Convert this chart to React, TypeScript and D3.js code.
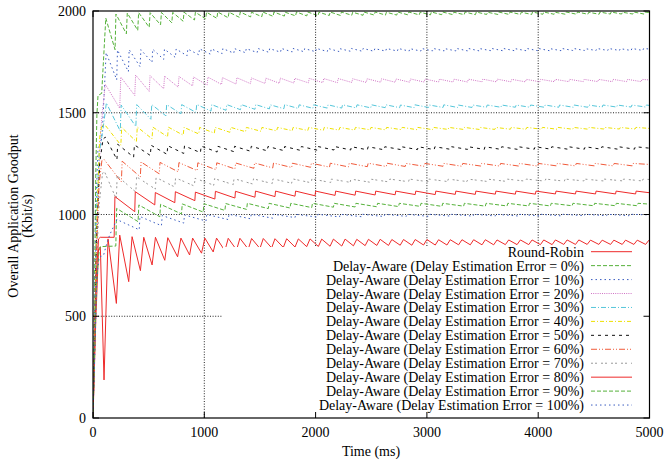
import * as d3 from "d3";

const W = 664;
const H = 461;
const M = { left: 93, right: 649.5, top: 11, bottom: 418 };

const xTicks = [0, 1000, 2000, 3000, 4000, 5000];
const yTicks = [0, 500, 1000, 1500, 2000];

const seriesNames = [
  "Round-Robin",
  "Delay-Aware (Delay Estimation Error = 0%)",
  "Delay-Aware (Delay Estimation Error = 10%)",
  "Delay-Aware (Delay Estimation Error = 20%)",
  "Delay-Aware (Delay Estimation Error = 30%)",
  "Delay-Aware (Delay Estimation Error = 40%)",
  "Delay-Aware (Delay Estimation Error = 50%)",
  "Delay-Aware (Delay Estimation Error = 60%)",
  "Delay-Aware (Delay Estimation Error = 70%)",
  "Delay-Aware (Delay Estimation Error = 80%)",
  "Delay-Aware (Delay Estimation Error = 90%)",
  "Delay-Aware (Delay Estimation Error = 100%)",
];

// [time (ms), goodput (Kbit/s)]
const roundRobin = [
  [0, 0], [25, 480], [50, 830], [66, 840], [99, 187], [135, 880], [210, 563], [240, 899], [321, 670], [351, 891],
  [426, 724], [456, 888], [531, 752], [561, 888], [645, 775], [672, 886], [760, 792], [790, 884], [868, 801], [895, 884],
  [975, 810], [1005, 884], [1080, 816], [1110, 884], [1185, 822], [1215, 883], [1290, 826], [1320, 883], [1395, 830], [1425, 882],
  [1500, 833], [1530, 882], [1605, 836], [1635, 881], [1710, 838], [1740, 881], [1815, 840], [1845, 880], [1920, 842], [1950, 880],
  [2025, 843], [2055, 879], [2130, 844], [2160, 879], [2235, 845], [2265, 879], [2340, 846], [2370, 878], [2445, 847], [2475, 878],
  [2550, 848], [2580, 878], [2655, 848], [2685, 877], [2760, 849], [2790, 877], [2865, 849], [2895, 877], [2970, 850], [3000, 877],
  [3075, 850], [3105, 876], [3180, 850], [3210, 876], [3285, 851], [3315, 876], [3390, 851], [3420, 876], [3495, 851], [3525, 876],
  [3600, 851], [3630, 875], [3705, 852], [3735, 875], [3810, 852], [3840, 875], [3915, 852], [3945, 875], [4020, 852], [4050, 875],
  [4125, 852], [4155, 875], [4230, 853], [4260, 875], [4335, 853], [4365, 875], [4440, 853], [4470, 874], [4545, 853], [4575, 874],
  [4650, 853], [4680, 874], [4755, 853], [4785, 874], [4860, 853], [4890, 874], [4965, 853], [4995, 874],
];

const err0 = [
  [0, 0], [25, 1200], [35, 1490], [45, 1585], [78, 1595], [115, 1965], [198, 1810], [206, 1985], [300, 1888], [308, 1990],
  [402, 1905], [410, 1992], [505, 1920], [513, 1992], [607, 1932], [615, 1993], [708, 1942], [716, 1993], [810, 1950], [818, 1994],
  [912, 1956], [920, 1994], [1012, 1961], [1020, 1994], [1113, 1964], [1121, 1995], [1214, 1967], [1222, 1994], [1315, 1969], [1323, 1995],
  [1416, 1971], [1424, 1994], [1517, 1972], [1525, 1995], [1618, 1974], [1626, 1995], [1719, 1975], [1727, 1994], [1820, 1976], [1828, 1995],
  [1921, 1976], [1929, 1995], [2022, 1977], [2030, 1994], [2123, 1978], [2131, 1995], [2224, 1978], [2232, 1995], [2325, 1979], [2333, 1994],
  [2426, 1979], [2434, 1995], [2527, 1980], [2535, 1995], [2628, 1980], [2636, 1994], [2729, 1980], [2737, 1995], [2830, 1981], [2838, 1995],
  [2931, 1981], [2939, 1994], [3032, 1981], [3040, 1995], [3133, 1982], [3141, 1995], [3234, 1982], [3242, 1994], [3335, 1982], [3343, 1995],
  [3436, 1982], [3444, 1995], [3537, 1983], [3545, 1994], [3638, 1983], [3646, 1995], [3739, 1983], [3747, 1995], [3840, 1983], [3848, 1994],
  [3941, 1983], [3949, 1995], [4042, 1984], [4050, 1995], [4143, 1984], [4151, 1994], [4244, 1984], [4252, 1995], [4345, 1984], [4353, 1995],
  [4446, 1984], [4454, 1994], [4547, 1984], [4555, 1995], [4648, 1985], [4656, 1995], [4749, 1985], [4757, 1994], [4850, 1985], [4858, 1995],
  [4951, 1985], [4959, 1995], [5000, 1992],
];

const err10 = [
  [0, 0], [30, 1100], [45, 1330], [70, 1340], [85, 1420], [118, 1795], [213, 1662], [220, 1808], [318, 1702], [325, 1810],
  [423, 1726], [430, 1810], [530, 1748], [537, 1812], [635, 1762], [642, 1812], [740, 1772], [747, 1813], [845, 1780], [852, 1813],
  [950, 1785], [957, 1814], [1055, 1788], [1062, 1814], [1160, 1791], [1167, 1815], [1265, 1793], [1272, 1815], [1370, 1795], [1377, 1815],
  [1475, 1796], [1482, 1816], [1580, 1797], [1587, 1815], [1685, 1798], [1692, 1816], [1790, 1799], [1797, 1816], [1895, 1800], [1902, 1815],
  [2000, 1800], [2007, 1816], [2105, 1801], [2112, 1816], [2210, 1801], [2217, 1815], [2315, 1802], [2322, 1816], [2420, 1802], [2427, 1816],
  [2525, 1802], [2532, 1815], [2630, 1803], [2637, 1816], [2735, 1803], [2742, 1816], [2840, 1803], [2847, 1815], [2945, 1803], [2952, 1816],
  [3050, 1804], [3057, 1816], [3155, 1804], [3162, 1815], [3260, 1804], [3267, 1816], [3365, 1804], [3372, 1816], [3470, 1804], [3477, 1815],
  [3575, 1805], [3582, 1816], [3680, 1805], [3687, 1816], [3785, 1805], [3792, 1815], [3890, 1805], [3897, 1816], [3995, 1805], [4002, 1816],
  [4100, 1805], [4107, 1815], [4205, 1805], [4212, 1816], [4310, 1806], [4317, 1816], [4415, 1806], [4422, 1815], [4520, 1806], [4527, 1816],
  [4625, 1806], [4632, 1816], [4730, 1806], [4737, 1815], [4835, 1806], [4842, 1816], [4940, 1806], [4947, 1816], [5000, 1813],
];

const err20 = [
  [0, 0], [40, 1000], [70, 1420], [110, 1640], [240, 1522], [250, 1675], [375, 1585], [383, 1685], [505, 1605], [513, 1682],
  [635, 1618], [643, 1680], [765, 1626], [773, 1678], [895, 1632], [903, 1676], [1025, 1636], [1033, 1675], [1155, 1639], [1163, 1673],
  [1285, 1641], [1293, 1672], [1415, 1643], [1423, 1671], [1545, 1644], [1553, 1670], [1675, 1645], [1683, 1670], [1805, 1646], [1813, 1669],
  [1935, 1647], [1943, 1669], [2065, 1648], [2073, 1668], [2195, 1648], [2203, 1668], [2325, 1649], [2333, 1667], [2455, 1649], [2463, 1667],
  [2585, 1650], [2593, 1667], [2715, 1650], [2723, 1666], [2845, 1650], [2853, 1666], [2975, 1651], [2983, 1666], [3105, 1651], [3113, 1665],
  [3235, 1651], [3243, 1665], [3365, 1651], [3373, 1665], [3495, 1652], [3503, 1665], [3625, 1652], [3633, 1665], [3755, 1652], [3763, 1664],
  [3885, 1652], [3893, 1664], [4015, 1652], [4023, 1664], [4145, 1653], [4153, 1664], [4275, 1653], [4283, 1664], [4405, 1653], [4413, 1664],
  [4535, 1653], [4543, 1664], [4665, 1653], [4673, 1664], [4795, 1653], [4803, 1664], [4925, 1653], [4933, 1664], [5000, 1661],
];

const err30 = [
  [0, 0], [30, 1000], [55, 1300], [90, 1420], [120, 1548], [245, 1410], [253, 1538], [385, 1432], [393, 1540], [520, 1468],
  [528, 1540], [655, 1485], [662, 1540], [790, 1495], [797, 1540], [925, 1502], [932, 1541], [1060, 1508], [1067, 1540], [1195, 1512],
  [1202, 1540], [1325, 1515], [1332, 1540], [1455, 1517], [1462, 1540], [1585, 1519], [1592, 1539], [1715, 1520], [1722, 1540], [1845, 1521],
  [1852, 1539], [1975, 1522], [1982, 1539], [2105, 1523], [2112, 1539], [2235, 1523], [2242, 1539], [2365, 1524], [2372, 1539], [2495, 1524],
  [2502, 1539], [2625, 1525], [2632, 1539], [2755, 1525], [2762, 1538], [2885, 1525], [2892, 1539], [3015, 1526], [3022, 1538], [3145, 1526],
  [3152, 1539], [3275, 1526], [3282, 1538], [3405, 1526], [3412, 1538], [3535, 1527], [3542, 1538], [3665, 1527], [3672, 1538], [3795, 1527],
  [3802, 1538], [3925, 1527], [3932, 1538], [4055, 1527], [4062, 1538], [4185, 1527], [4192, 1538], [4315, 1527], [4322, 1538], [4445, 1527],
  [4452, 1538], [4575, 1528], [4582, 1538], [4705, 1528], [4712, 1538], [4835, 1528], [4842, 1538], [4965, 1528], [4972, 1538], [5000, 1536],
];

const err40 = [
  [0, 0], [30, 900], [60, 1380], [80, 1440], [115, 1435], [250, 1341], [258, 1428], [390, 1358], [398, 1430], [530, 1372],
  [538, 1429], [670, 1382], [678, 1429], [810, 1390], [818, 1428], [950, 1396], [958, 1428], [1090, 1400], [1098, 1428], [1230, 1404],
  [1238, 1428], [1370, 1407], [1378, 1428], [1510, 1409], [1518, 1428], [1650, 1411], [1658, 1428], [1790, 1412], [1798, 1428], [1930, 1413],
  [1938, 1428], [2070, 1414], [2078, 1428], [2210, 1415], [2218, 1428], [2350, 1415], [2358, 1428], [2490, 1416], [2498, 1428], [2630, 1416],
  [2638, 1428], [2770, 1417], [2778, 1428], [2910, 1417], [2918, 1428], [3050, 1417], [3058, 1428], [3190, 1418], [3198, 1428], [3330, 1418],
  [3338, 1428], [3470, 1418], [3478, 1428], [3610, 1418], [3618, 1428], [3750, 1419], [3758, 1428], [3890, 1419], [3898, 1428], [4030, 1419],
  [4038, 1428], [4170, 1419], [4178, 1428], [4310, 1419], [4318, 1428], [4450, 1419], [4458, 1428], [4590, 1420], [4598, 1428], [4730, 1420],
  [4738, 1428], [4870, 1420], [4878, 1428], [5000, 1423],
];

const err50 = [
  [0, 0], [30, 850], [60, 1250], [90, 1370], [110, 1380], [215, 1270], [222, 1345], [365, 1282], [372, 1342], [515, 1290],
  [522, 1340], [665, 1296], [672, 1338], [815, 1300], [822, 1337], [965, 1304], [972, 1336], [1115, 1307], [1122, 1335], [1265, 1309],
  [1272, 1335], [1415, 1311], [1422, 1335], [1565, 1313], [1572, 1334], [1715, 1314], [1722, 1334], [1865, 1315], [1872, 1334], [2015, 1316],
  [2022, 1334], [2165, 1317], [2172, 1334], [2315, 1317], [2322, 1333], [2465, 1318], [2472, 1333], [2615, 1318], [2622, 1333], [2765, 1319],
  [2772, 1333], [2915, 1319], [2922, 1333], [3065, 1319], [3072, 1333], [3215, 1320], [3222, 1333], [3365, 1320], [3372, 1333], [3515, 1320],
  [3522, 1333], [3665, 1320], [3672, 1333], [3815, 1320], [3822, 1333], [3965, 1321], [3972, 1333], [4115, 1321], [4122, 1333], [4265, 1321],
  [4272, 1333], [4415, 1321], [4422, 1333], [4565, 1321], [4572, 1333], [4715, 1321], [4722, 1333], [4865, 1321], [4872, 1333], [5000, 1326],
];

const err60 = [
  [0, 0], [30, 800], [55, 1150], [80, 1265], [100, 1270], [255, 1160], [262, 1262], [425, 1185], [432, 1258], [595, 1200],
  [602, 1256], [765, 1210], [772, 1255], [935, 1216], [942, 1254], [1105, 1220], [1112, 1254], [1275, 1224], [1282, 1253], [1445, 1227],
  [1452, 1253], [1615, 1229], [1622, 1253], [1785, 1231], [1792, 1252], [1955, 1232], [1962, 1252], [2125, 1233], [2132, 1252], [2295, 1234],
  [2302, 1252], [2465, 1235], [2472, 1252], [2635, 1236], [2642, 1252], [2805, 1236], [2812, 1251], [2975, 1237], [2982, 1251], [3145, 1237],
  [3152, 1251], [3315, 1237], [3322, 1251], [3485, 1238], [3492, 1251], [3655, 1238], [3662, 1251], [3825, 1238], [3832, 1251], [3995, 1238],
  [4002, 1251], [4165, 1239], [4172, 1251], [4335, 1239], [4342, 1251], [4505, 1239], [4512, 1251], [4675, 1239], [4682, 1251], [4845, 1239],
  [4852, 1251], [5000, 1246],
];

const err70 = [
  [0, 0], [30, 750], [55, 1050], [85, 1200], [100, 1215], [210, 1075], [217, 1190], [385, 1110], [392, 1185], [560, 1125],
  [567, 1182], [735, 1135], [742, 1180], [910, 1140], [917, 1178], [1085, 1144], [1092, 1176], [1260, 1147], [1267, 1176], [1435, 1150],
  [1442, 1175], [1610, 1152], [1617, 1175], [1785, 1154], [1792, 1175], [1960, 1156], [1967, 1175], [2135, 1157], [2142, 1174], [2310, 1158],
  [2317, 1174], [2485, 1159], [2492, 1174], [2660, 1160], [2667, 1174], [2835, 1161], [2842, 1174], [3010, 1161], [3017, 1174], [3185, 1162],
  [3192, 1174], [3360, 1162], [3367, 1174], [3535, 1163], [3542, 1174], [3710, 1163], [3717, 1174], [3885, 1164], [3892, 1174], [4060, 1164],
  [4067, 1174], [4235, 1164], [4242, 1174], [4410, 1165], [4417, 1174], [4585, 1165], [4592, 1174], [4760, 1165], [4767, 1174], [4935, 1165],
  [4942, 1174], [5000, 1172],
];

const err80 = [
  [0, 0], [30, 700], [50, 880], [65, 888], [190, 888], [197, 1088], [375, 1014], [380, 1112], [555, 1047], [560, 1108],
  [735, 1058], [740, 1112], [915, 1068], [920, 1110], [1095, 1076], [1100, 1114], [1275, 1081], [1280, 1114], [1455, 1085], [1460, 1115],
  [1635, 1088], [1640, 1115], [1815, 1090], [1820, 1115], [1995, 1092], [2000, 1115], [2175, 1094], [2180, 1115], [2355, 1095], [2360, 1115],
  [2535, 1096], [2540, 1115], [2715, 1097], [2720, 1115], [2895, 1098], [2900, 1115], [3075, 1098], [3080, 1115], [3255, 1099], [3260, 1115],
  [3435, 1099], [3440, 1115], [3615, 1100], [3620, 1115], [3795, 1100], [3800, 1115], [3975, 1100], [3980, 1115], [4155, 1101], [4160, 1115],
  [4335, 1101], [4340, 1115], [4515, 1101], [4520, 1115], [4695, 1101], [4700, 1115], [4875, 1101], [4880, 1115], [5000, 1107],
];

const err90 = [
  [0, 0], [30, 650], [50, 800], [65, 842], [205, 845], [212, 1030], [405, 965], [412, 1047], [600, 989], [607, 1050],
  [795, 1003], [802, 1052], [990, 1012], [997, 1053], [1185, 1020], [1192, 1054], [1380, 1025], [1387, 1055], [1575, 1029], [1582, 1055],
  [1770, 1032], [1777, 1055], [1965, 1034], [1972, 1055], [2160, 1036], [2167, 1055], [2355, 1037], [2362, 1055], [2550, 1038], [2557, 1055],
  [2745, 1039], [2752, 1055], [2940, 1040], [2947, 1055], [3135, 1040], [3142, 1055], [3330, 1041], [3337, 1055], [3525, 1041], [3532, 1055],
  [3720, 1042], [3727, 1055], [3915, 1042], [3922, 1055], [4110, 1042], [4117, 1055], [4305, 1043], [4312, 1055], [4500, 1043], [4507, 1055],
  [4695, 1043], [4702, 1055], [4890, 1043], [4897, 1055], [5000, 1051],
];

const err100 = [
  [0, 0], [35, 700], [55, 790], [95, 800], [120, 850], [150, 900], [215, 975], [415, 925], [422, 990], [615, 945],
  [622, 995], [815, 958], [822, 998], [1015, 968], [1022, 1000], [1215, 975], [1222, 1001], [1415, 979], [1422, 1001], [1615, 982],
  [1622, 1001], [1815, 985], [1822, 1001], [2015, 987], [2022, 1001], [2215, 988], [2222, 1001], [2415, 989], [2422, 1001], [2615, 990],
  [2622, 1001], [2815, 991], [2822, 1001], [3015, 991], [3022, 1001], [3215, 992], [3222, 1001], [3415, 992], [3422, 1001], [3615, 993],
  [3622, 1001], [3815, 993], [3822, 1001], [4015, 993], [4022, 1001], [4215, 993], [4222, 1001], [4415, 994], [4422, 1001], [4615, 994],
  [4622, 1001], [4815, 994], [4822, 1001], [5000, 998],
];

const seriesData = [roundRobin, err0, err10, err20, err30, err40, err50, err60, err70, err80, err90, err100];

// gnuplot-like line types
const colors = ["#ee2a2a", "#55b13a", "#3a5cc0", "#cf72c4", "#55c6da", "#eee000", "#111111", "#f05a3a", "#999999", "#ee2a2a", "#55b13a", "#3a5cc0"];
const dashes = ["none", "4,2", "1.5,3", "1,1.2", "5,2,1,2", "4,2,1,2", "3,4", "6,2,1,2,1,2", "2,2,2,4", "none", "4,2", "1.5,3"];

const FONT = "'Liberation Serif', 'Times New Roman', serif";

export default function App() {
  const x = d3.scaleLinear().domain([0, 5000]).range([M.left, M.right]);
  const y = d3.scaleLinear().domain([0, 2000]).range([M.bottom, M.top]);
  const line = d3
    .line<number[]>()
    .x((d) => x(d[0]))
    .y((d) => y(d[1]));

  const keyX = 223;
  const keyTop = 247;
  const rowY = (i: number) => 251.7 + i * 13.94;
  const tick = 6;

  return (
    <svg
      width={W}
      height={H}
      style={{ position: "absolute", left: 0, top: 0, background: "#fff" }}
      fontFamily={FONT}
      fontSize={14}
    >
      <defs>
        <clipPath id="plot">
          <rect x={M.left} y={M.top} width={M.right - M.left} height={M.bottom - M.top} />
        </clipPath>
      </defs>
      <rect width={W} height={H} fill="#fff" />

      {/* grid */}
      <g stroke="#222" strokeWidth={1} strokeDasharray="1,1.6">
        {xTicks.slice(1, -1).map((t) => (
          <line key={"gx" + t} x1={x(t)} x2={x(t)} y1={M.top} y2={M.bottom} />
        ))}
        {yTicks.slice(1, -1).map((t) => (
          <line key={"gy" + t} x1={M.left} x2={M.right} y1={y(t)} y2={y(t)} />
        ))}
      </g>

      {/* series */}
      <g clipPath="url(#plot)" fill="none">
        {seriesData.map((d, i) => (
          <path
            key={"s" + i}
            d={line(d) ?? ""}
            stroke={colors[i]}
            strokeWidth={1}
            strokeDasharray={dashes[i]}
          />
        ))}
      </g>

      {/* key (opaque) */}
      <rect x={keyX} y={keyTop} width={M.right - keyX} height={M.bottom - keyTop} fill="#fff" />
      {seriesNames.map((name, i) => (
        <g key={"k" + i}>
          <text x={584} y={rowY(i) + 5} textAnchor="end" fill="#000">
            {name}
          </text>
          <line
            x1={591}
            x2={632}
            y1={rowY(i)}
            y2={rowY(i)}
            stroke={colors[i]}
            strokeWidth={1}
            strokeDasharray={dashes[i]}
          />
        </g>
      ))}

      {/* border and ticks */}
      <rect
        x={M.left}
        y={M.top}
        width={M.right - M.left}
        height={M.bottom - M.top}
        fill="none"
        stroke="#000"
        strokeWidth={1.2}
      />
      <g stroke="#000" strokeWidth={1}>
        {xTicks.map((t) => (
          <g key={"tx" + t}>
            <line x1={x(t)} x2={x(t)} y1={M.bottom} y2={M.bottom - tick} />
            <line x1={x(t)} x2={x(t)} y1={M.top} y2={M.top + tick} />
          </g>
        ))}
        {yTicks.map((t) => (
          <g key={"ty" + t}>
            <line x1={M.left} x2={M.left + tick} y1={y(t)} y2={y(t)} />
            <line x1={M.right} x2={M.right - tick} y1={y(t)} y2={y(t)} />
          </g>
        ))}
      </g>

      {/* tick labels */}
      {xTicks.map((t) => (
        <text key={"lx" + t} x={x(t)} y={437} textAnchor="middle" fill="#000">
          {t}
        </text>
      ))}
      {yTicks.map((t) => (
        <text key={"ly" + t} x={86} y={y(t) + 5} textAnchor="end" fill="#000">
          {t}
        </text>
      ))}

      {/* axis titles */}
      <text x={371} y={456} textAnchor="middle" fill="#000">
        Time (ms)
      </text>
      <g transform="translate(18,216) rotate(-90)">
        <text x={0} y={0} textAnchor="middle" fill="#000">
          Overall Application Goodput
        </text>
        <text x={0} y={14} textAnchor="middle" fill="#000">
          (Kbit/s)
        </text>
      </g>
    </svg>
  );
}
